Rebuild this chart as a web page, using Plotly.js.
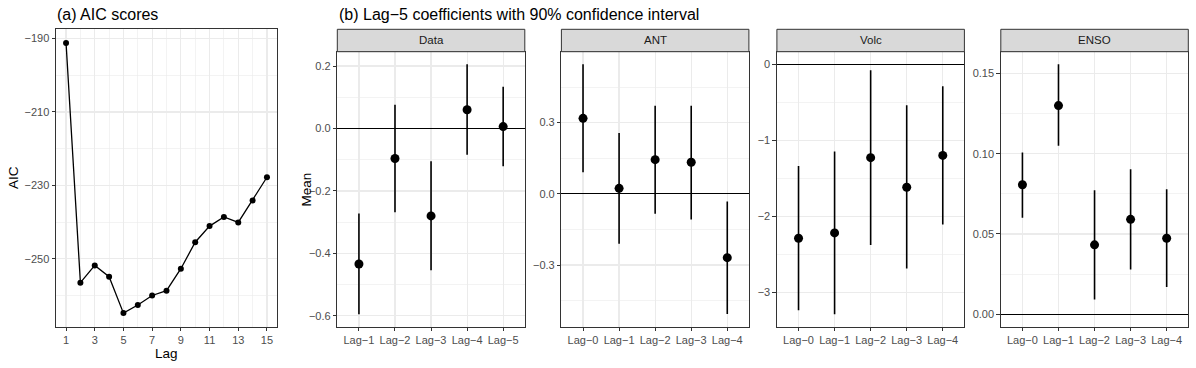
<!DOCTYPE html>
<html>
<head>
<meta charset="utf-8">
<script src="https://cdn.plot.ly/plotly-3.0.1.min.js"></script>
<style>
  body { margin: 0; background: white; }
  #myDiv { width: 1196px; height: 368px; }
</style>
</head>
<body>
<div id="myDiv"></div>
<script>
// (a) AIC by lag
var lags = [1, 2, 3, 4, 5, 6, 7, 8, 9, 10, 11, 12, 13, 14, 15];
var aic = [-191.2, -256.5, -251.8, -254.9, -264.8, -262.6, -260.0, -258.7, -252.7, -245.5, -241.1, -238.6, -240.1, -234.1, -227.8];

// (b) lag coefficients, mean and 90% interval
var dataLags = ['Lag\u22121', 'Lag\u22122', 'Lag\u22123', 'Lag\u22124', 'Lag\u22125'];
var forcLags = ['Lag\u22120', 'Lag\u22121', 'Lag\u22122', 'Lag\u22123', 'Lag\u22124'];

var dataMean = [-0.434, -0.096, -0.280, 0.060, 0.006];
var dataLow  = [-0.595, -0.268, -0.454, -0.084, -0.121];
var dataHigh = [-0.272, 0.076, -0.105, 0.206, 0.134];

var antMean = [0.318, 0.023, 0.144, 0.133, -0.269];
var antLow  = [0.091, -0.210, -0.084, -0.108, -0.507];
var antHigh = [0.546, 0.256, 0.371, 0.371, -0.032];

var volcMean = [-2.29, -2.22, -1.23, -1.62, -1.20];
var volcLow  = [-3.24, -3.29, -2.38, -2.69, -2.11];
var volcHigh = [-1.34, -1.15, -0.08, -0.54, -0.29];

var ensoMean = [0.0807, 0.130, 0.0432, 0.0591, 0.0473];
var ensoLow  = [0.0601, 0.105, 0.0091, 0.0278, 0.0170];
var ensoHigh = [0.1008, 0.1558, 0.0772, 0.0904, 0.0778];

var facetNames = ['Data', 'ANT', 'Volc', 'ENSO'];

var W = 1196, H = 368;
function px(x) { return x / W; }
function py(y) { return 1 - y / H; }

var FONT = 'Liberation Sans, Arial, Helvetica, sans-serif';

function coefTrace(xs, mean, low, high, n) {
    return {
        x: xs,
        y: mean,
        xaxis: 'x' + n,
        yaxis: 'y' + n,
        type: 'scatter',
        mode: 'markers',
        marker: { color: 'black', size: 9 },
        error_y: {
            type: 'data',
            symmetric: false,
            array: high.map(function (h, i) { return h - mean[i]; }),
            arrayminus: low.map(function (l, i) { return mean[i] - l; }),
            width: 0,
            thickness: 1.6,
            color: 'black'
        },
        showlegend: false
    };
}

var traces = [
    {
        x: lags, y: aic, xaxis: 'x', yaxis: 'y',
        type: 'scatter', mode: 'lines+markers',
        line: { color: 'black', width: 1.3 },
        marker: { color: 'black', size: 6 },
        showlegend: false
    },
    coefTrace(dataLags, dataMean, dataLow, dataHigh, 2),
    coefTrace(forcLags, antMean, antLow, antHigh, 3),
    coefTrace(forcLags, volcMean, volcLow, volcHigh, 4),
    coefTrace(forcLags, ensoMean, ensoLow, ensoHigh, 5)
];

function baseAxis(extra) {
    var ax = {
        showline: true, mirror: true, linecolor: '#333333', linewidth: 1,
        ticks: 'outside', ticklen: 3.5, tickwidth: 1, tickcolor: '#333333',
        tickfont: { family: FONT, size: 11, color: '#4D4D4D' },
        showgrid: true, gridcolor: '#EBEBEB', gridwidth: 1.2,
        zeroline: false, fixedrange: true
    };
    for (var k in extra) ax[k] = extra[k];
    return ax;
}

function minorGrid(dtick, tick0) {
    return { dtick: dtick, tick0: tick0, showgrid: true, gridcolor: '#EBEBEB', gridwidth: 0.6, ticks: '' };
}

function label(text, x, y, size, color, angle, xanchor) {
    return {
        text: text, x: px(x), y: py(y), xref: 'paper', yref: 'paper',
        xanchor: xanchor || 'center', yanchor: 'middle', textangle: angle || 0,
        showarrow: false, font: { size: size, color: color }
    };
}

// panel geometry in pixels
var panelTop = 29.3, stripBottom = 51.7, panelBottom = 326.7;
var panelW = 187.5;
var panelLeft = [337.3, 561.4, 776.9, 1000.8];

var layout = {
    width: W, height: H,
    margin: { l: 0, r: 0, t: 0, b: 0 },
    paper_bgcolor: 'white',
    plot_bgcolor: 'white',
    font: { family: FONT, color: 'black' },
    showlegend: false,
    xaxis: baseAxis({
        domain: [px(56), px(277)], anchor: 'y',
        range: [0.3, 15.7], tick0: 1, dtick: 2,
        minor: minorGrid(1, 0)
    }),
    yaxis: baseAxis({
        domain: [py(panelBottom), py(panelTop)], anchor: 'x',
        range: [-268.5, -187.5], tick0: -190, dtick: 20,
        minor: minorGrid(10, -200)
    }),
    shapes: [],
    annotations: [
        label('(a) AIC scores', 55, 14, 16, 'black', 0, 'left'),
        label('(b) Lag\u22125 coefficients with 90% confidence interval', 336.5, 14, 16, 'black', 0, 'left'),
        label('AIC', 13, 178, 13.5, 'black', -90),
        label('Lag', 166, 353, 13.5, 'black'),
        label('Mean', 306, 189.5, 13.5, 'black', -90)
    ]
};

var yRanges = [[-0.635, 0.246], [-0.560, 0.599], [-3.455, 0.165], [-0.0078, 0.1636]];
var yTicks = [[0.2, 0.1, '.1f'], [0.3, 0.15, '.1f'], [1, 0.5, ''], [0.05, 0.025, '.2f']];

for (var i = 0; i < 4; i++) {
    var n = i + 2;
    var x0 = panelLeft[i], x1 = panelLeft[i] + panelW;
    layout['xaxis' + n] = baseAxis({
        domain: [px(x0), px(x1)], anchor: 'y' + n,
        type: 'category', range: [-0.6, 4.6]
    });
    layout['yaxis' + n] = baseAxis({
        domain: [py(panelBottom), py(stripBottom)], anchor: 'x' + n,
        range: yRanges[i], tick0: 0, dtick: yTicks[i][0], tickformat: yTicks[i][2],
        minor: minorGrid(yTicks[i][1], 0),
        zeroline: true, zerolinecolor: 'black', zerolinewidth: 1.1
    });
    layout.shapes.push({
        type: 'rect', xref: 'paper', yref: 'paper',
        x0: px(x0), x1: px(x1), y0: py(stripBottom), y1: py(panelTop),
        fillcolor: '#D9D9D9', line: { color: '#333333', width: 1 }
    });
    layout.annotations.push(label(facetNames[i], (x0 + x1) / 2, (panelTop + stripBottom) / 2, 11.5, '#1A1A1A'));
}

Plotly.newPlot('myDiv', traces, layout, { displayModeBar: false, staticPlot: true });
</script>
</body>
</html>
